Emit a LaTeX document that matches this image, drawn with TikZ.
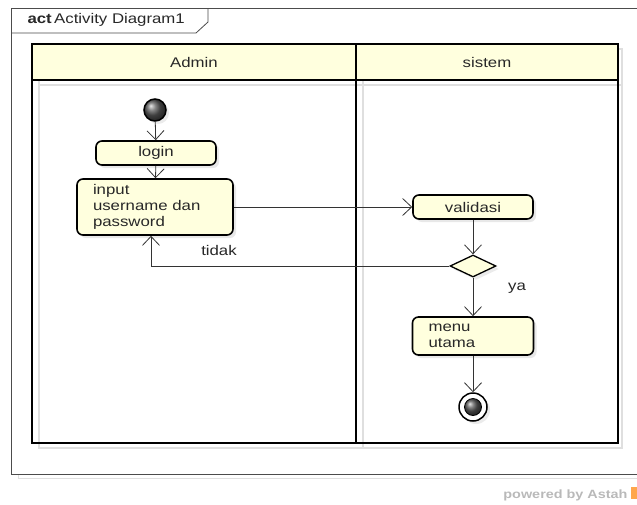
\documentclass[tikz,border=0pt]{standalone}
\usepackage{fontspec}
\setmainfont{Liberation Sans}[FakeStretch=1.2]
\usetikzlibrary{shapes.geometric,arrows.meta,shadows}

\definecolor{kuning}{RGB}{255,255,222}
\definecolor{teks}{RGB}{40,40,40}

\tikzset{
    aksi/.style={draw=black, line width=1.6pt, fill=kuning, rounded corners=6pt,
        inner sep=0pt, text=teks,
        drop shadow={shadow xshift=3pt, shadow yshift=-3pt, fill=gray!35}},
    panah/.style={draw=black!80, line width=0.8pt,
        -{Straight Barb[length=9pt,width=17pt,line width=0.8pt]}},
    lajur/.style={draw=black, line width=1.8pt},
}

\begin{document}
\begin{tikzpicture}[x=1pt, y=-1pt, font=\fontsize{14}{16}\selectfont]
    \useasboundingbox (0,0) rectangle (637,504);

    % frame
    \draw[gray!25, line width=0.8pt] (18,14) rectangle (645,478);
    \draw[black!70, line width=0.8pt, fill=white] (11,8) rectangle (645,474);
    \draw[black!70, line width=0.8pt] (11,33) -- (196,33) -- (208,22) -- (208,8);
    \node[anchor=west, text=teks] (judul) at (24,20) {\textbf{act}\,Activity Diagram1};

    % swimlanes
    \draw[gray!25, line width=1.8pt] (39,49) rectangle (622,448);
    \draw[gray!25, line width=1.8pt] (363,49) -- (363,448);
    \draw[gray!25, line width=1.8pt] (39,85) -- (622,85);
    \fill[kuning] (32,44) rectangle (618,80);
    \draw[lajur] (32,44) rectangle (618,443);
    \draw[lajur] (32,80) -- (618,80);
    \draw[lajur] (356,44) -- (356,443);
    \node[text=teks] (admin) at (194,62) {Admin};
    \node[text=teks] (sistem) at (487,62) {sistem};

    % nodes
    \node[circle, draw=black, line width=1.5pt, minimum size=22pt, inner sep=0pt,
        shading=ball, ball color=gray!70!black,
        drop shadow={shadow xshift=3pt, shadow yshift=-3pt, fill=gray!30}] (mulai) at (155,110) {};
    \node[aksi, minimum width=120pt, minimum height=24pt] (login) at (156,153) {login};
    \node[aksi, minimum height=56pt, text width=124pt, inner xsep=16pt, align=left] (input) at (155,207)
        {input\\username dan\\password};
    \node[aksi, minimum width=120pt, minimum height=24pt] (validasi) at (473,207) {validasi};
    \node[diamond, draw=black, line width=1.3pt, fill=kuning, minimum width=46pt,
        minimum height=22pt, inner sep=0pt,
        drop shadow={shadow xshift=3pt, shadow yshift=-3pt, fill=gray!30}] (cek) at (473,266) {};
    \node[aksi, minimum height=38pt, text width=89pt, inner xsep=16pt, align=left] (menu) at (473,336)
        {menu\\utama};
    \node[circle, draw=black, line width=1.5pt, fill=white, minimum size=28pt, inner sep=0pt,
        drop shadow={shadow xshift=3pt, shadow yshift=-3pt, fill=gray!30}] (akhir) at (473,407) {};
    \node[circle, draw=black, line width=0.8pt, minimum size=17pt, inner sep=0pt,
        shading=ball, ball color=gray!70!black] (akhirdalam) at (akhir) {};

    % flows
    \draw[panah] (mulai) -- (login);
    \draw[panah] (login) -- (input);
    \draw[panah] (input) -- (validasi);
    \draw[panah] (validasi) -- (cek);
    \draw[panah] (cek.west) -| ([xshift=-4pt]input.south);
    \node[text=teks] (tidak) at (219,250) {tidak};
    \draw[panah] (cek) -- (menu);
    \node[text=teks] (ya) at (517,288) {ya};
    \draw[panah] (menu) -- (akhir);

    \node[anchor=base east, text=gray!55, font=\fontsize{12}{14}\selectfont\bfseries] (astah) at (631,498) {powered by Astah};
    \fill[orange!70] (631,487) rectangle (637,499);
\end{tikzpicture}
\end{document}
